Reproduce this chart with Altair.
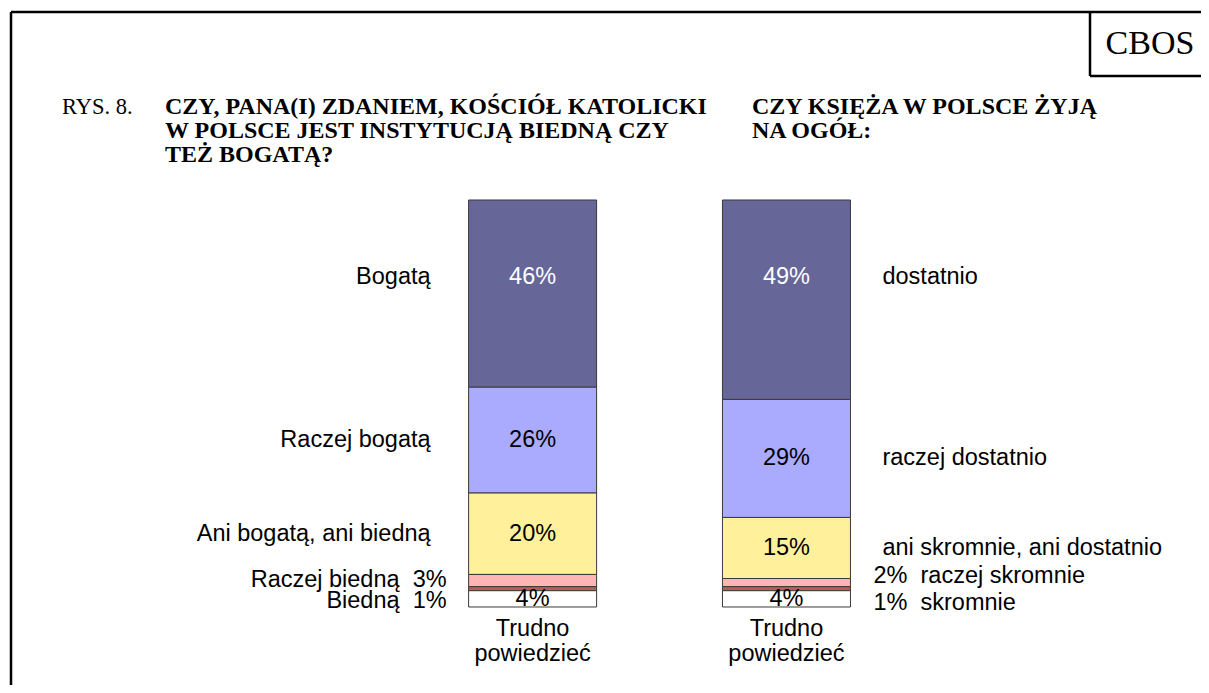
import altair as alt
import pandas as pd

# ---- data ----
cats_left = ["Bogatą", "Raczej bogatą", "Ani bogatą, ani biedną", "Raczej biedną", "Biedną", "Trudno\npowiedzieć"]
vals_left = [46, 26, 20, 3, 1, 4]
cats_right = ["dostatnio", "raczej dostatnio", "ani skromnie, ani dostatnio", "raczej skromnie", "skromnie", "Trudno\npowiedzieć"]
vals_right = [49, 29, 15, 2, 1, 4]
level_colors = ["#666699", "#AAAAFF", "#FFF09B", "#FFB5B5", "#B85C5C", "#FFFFFF"]

title_left = ["CZY, PANA(I) ZDANIEM, KOŚCIÓŁ KATOLICKI", "W POLSCE JEST INSTYTUCJĄ BIEDNĄ CZY", "TEŻ BOGATĄ?"]
title_right = ["CZY KSIĘŻA W POLSCE ŻYJĄ", "NA OGÓŁ:"]
fig_label = "RYS. 8."
brand = "CBOS"

rows = []
for q, (cats, vals) in enumerate([(cats_left, vals_left), (cats_right, vals_right)], start=1):
    for lvl, (c, v) in enumerate(zip(cats, vals)):
        rows.append({"q": q, "pos": q, "level": lvl, "cat": c, "value": v})
df = pd.DataFrame(rows)

W, H = 1193, 677
xs = alt.Scale(domain=[-1.046875, -1.046875 + W / 256], nice=False, zero=False)
ys = alt.Scale(domain=[147.174 - H / 4.07, 147.174], nice=False, zero=False)
SANS = "Liberation Sans"
SERIF = "Liberation Serif"
FS = 23.5

base = (
    alt.Chart(df)
    .transform_stack(stack="value", groupby=["q"],
                     sort=[alt.SortField("level", order="descending")],
                     as_=["y0", "y1"])
    .transform_calculate(
        mid="(datum.y0 + datum.y1) / 2",
        labely="datum.level == 0 ? datum.y1 - 19 : (datum.y0 + datum.y1) / 2",
        pct="datum.value + '%'",
        small="datum.q == 1 ? datum.cat + '\u00a0\u00a0' + datum.value + '%' : datum.value + '%\u00a0\u00a0' + datum.cat",
    )
)
X = alt.X("pos:Q", scale=xs, axis=None)

bars = base.mark_bar(width=128, stroke="#3a3a3a", strokeWidth=1).encode(
    x=X,
    y=alt.Y("y0:Q", scale=ys, axis=None),
    y2="y1:Q",
    color=alt.Color("level:N", scale=alt.Scale(domain=[0, 1, 2, 3, 4, 5], range=level_colors), legend=None),
)

inside = base.transform_filter("datum.level <= 2 || datum.level == 5").mark_text(
    font=SANS, fontSize=FS, baseline="middle", align="center"
).encode(
    x=X,
    y=alt.Y("labely:Q", scale=ys, axis=None),
    text="pct:N",
    color=alt.condition("datum.level == 0", alt.value("white"), alt.value("black")),
)

left_cats = base.transform_filter("datum.q == 1 && datum.level <= 2").mark_text(
    font=SANS, fontSize=FS, baseline="middle", align="right", dx=-102, color="black"
).encode(x=X, y=alt.Y("labely:Q", scale=ys, axis=None), text="cat:N")

right_cats = base.transform_filter("datum.q == 2 && datum.level <= 2").mark_text(
    font=SANS, fontSize=FS, baseline="middle", align="left", dx=96, color="black"
).encode(x=X, y=alt.Y("labely:Q", scale=ys, axis=None), text="cat:N")

def small_layer(q, lvl, align, dx, dy):
    return base.transform_filter(f"datum.q == {q} && datum.level == {lvl}").mark_text(
        font=SANS, fontSize=FS, baseline="middle", align=align, dx=dx, dy=dy, color="black"
    ).encode(x=X, y=alt.Y("mid:Q", scale=ys, axis=None), text="small:N")

smalls = [
    small_layer(1, 3, "right", -86, -1),
    small_layer(1, 4, "right", -86, 12),
    small_layer(2, 3, "left", 87, -7),
    small_layer(2, 4, "left", 87, 14),
]

below = base.transform_filter("datum.level == 5").mark_text(
    font=SANS, fontSize=FS, baseline="alphabetic", align="center", dy=29,
    lineBreak="\n", lineHeight=25, color="black"
).encode(x=X, y=alt.Y("y0:Q", scale=ys, axis=None), text="cat:N")

dummy = pd.DataFrame({"d": [0]})

def rule(x, x2, y, y2):
    return alt.Chart(dummy).mark_rule(color="black", strokeWidth=2.5).encode(
        x=alt.value(x), x2=alt.value(x2), y=alt.value(y), y2=alt.value(y2))

frame = [
    rule(3, W + 20, 4, 4),
    rule(3, 3, 4, H + 40),
    rule(1082, 1082, 4, 68),
    rule(1082, W + 20, 68, 68),
]

def txt(lines, x, y, font, size, weight="normal", align="left"):
    return alt.Chart(dummy).mark_text(
        font=font, fontSize=size, fontWeight=weight, align=align,
        baseline="alphabetic", lineHeight=24, color="black"
    ).encode(x=alt.value(x), y=alt.value(y), text=alt.value(lines))

titles = [
    txt(fig_label, 54, 106, SERIF, 22.5),
    txt(title_left, 157, 106, SERIF, 24, "bold"),
    txt(title_right, 744, 106, SERIF, 24, "bold"),
    txt(brand, 1142, 46, SERIF, 34, align="center"),
]

chart = alt.layer(
    bars, inside, left_cats, right_cats, *smalls, below, *frame, *titles
).properties(
    width=W, height=H, padding=0, autosize="none", background="white"
).configure_view(stroke=None)

chart.save("out.html", embed_options={"renderer": "svg", "actions": False})
